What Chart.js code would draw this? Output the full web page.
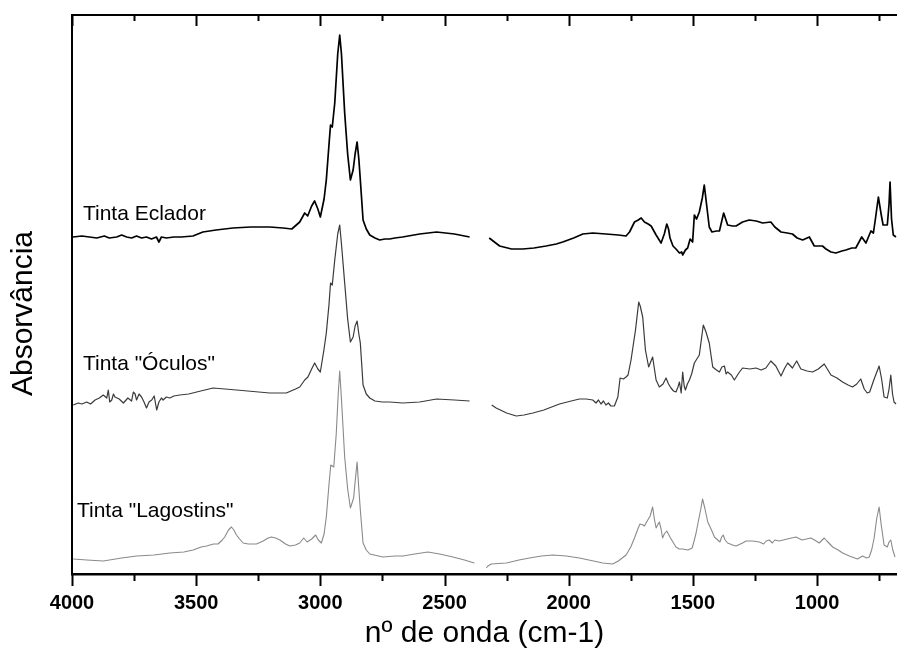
<!DOCTYPE html>
<html>
<head>
<meta charset="utf-8">
<title>Espectros FTIR</title>
<script src="https://cdn.jsdelivr.net/npm/chart.js@4.4.1/dist/chart.umd.min.js"></script>
<style>
  html, body { margin: 0; padding: 0; background: #fff; }
  canvas { display: block; }
</style>
</head>
<body>
<canvas id="chartCanvas" width="897" height="659"></canvas>
<script>
// wavenumber (cm-1) / absorbance (offset, arbitrary units); null = removed CO2 region
const ecladorWn = [3996,3960,3930,3900,3870,3850,3820,3800,3780,3760,3740,3720,3700,3680,3660,3650,3640,3620,3590,3560,3513,3473,3420,3352,3280,3204,3150,3115,3083,3063,3051,3035,3023,3010,3000,2985,2976,2965,2959,2952,2942,2930,2922,2915,2902,2890,2879,2868,2860,2852,2845,2839,2828,2815,2801,2780,2761,2740,2721,2700,2669,2600,2532,2460,2399,
  2360,
  2320,2278,2230,2185,2140,2091,2050,2024,1980,1943,1903,1850,1800,1769,1755,1735,1720,1708,1695,1680,1668,1648,1628,1615,1605,1598,1592,1580,1568,1554,1545,1541,1530,1521,1511,1501,1494,1485,1474,1462,1454,1445,1434,1423,1405,1393,1376,1360,1340,1326,1300,1273,1245,1219,1186,1170,1145,1120,1099,1080,1058,1031,1011,990,978,964,944,924,900,884,860,844,820,803,783,773,765,753,742,734,717,710,706,700,693,682];
const ecladorAbs = [337,338,337,336,338,336,337,339,337,336,338,336,337,335,337,332,337,336,337,337,338,342,344,346,347,347,346,345,352,361,358,368,373,365,357,375,394,430,449,447,471,520,539,520,461,420,394,404,420,432,415,394,354,345,339,336,334,335,335,336,337,340,342,340,337,
  null,
  336,328,325,325,326,328,330,332,336,340,341,340,339,338,342,352,354,356,352,350,348,339,331,340,350,345,336,328,325,321,322,319,324,326,335,332,359,355,362,376,389,370,347,342,343,343,361,349,348,348,352,354,353,351,352,347,342,341,340,336,334,337,328,328,328,325,322,321,323,324,326,326,337,331,343,341,355,377,360,349,349,370,392,355,339,337];

const oculosWn = [3995,3975,3960,3941,3925,3907,3890,3874,3860,3854,3848,3840,3833,3827,3810,3793,3775,3760,3753,3746,3740,3730,3720,3710,3700,3690,3679,3669,3659,3650,3640,3633,3620,3606,3590,3566,3530,3498,3432,3337,3204,3137,3100,3083,3063,3050,3035,3023,3010,3000,2985,2976,2965,2959,2952,2942,2930,2922,2915,2902,2890,2879,2868,2860,2852,2845,2839,2828,2815,2801,2780,2750,2721,2669,2600,2532,2460,2399,
  2360,
  2310,2292,2250,2211,2180,2144,2100,2037,1990,1957,1930,1903,1890,1880,1870,1860,1850,1840,1830,1816,1802,1793,1780,1769,1761,1749,1731,1718,1712,1702,1691,1678,1662,1648,1635,1620,1608,1598,1588,1578,1568,1560,1554,1547,1541,1535,1530,1522,1514,1505,1494,1474,1458,1447,1434,1420,1405,1393,1383,1373,1366,1360,1345,1333,1315,1300,1270,1246,1225,1206,1186,1166,1145,1130,1118,1099,1082,1065,1040,1018,995,971,944,920,897,875,857,840,824,810,798,788,770,750,740,730,717,710,703,696,690,682];
const oculosAbs = [169,171,170,172,170,174,176,179,176,184,172,174,180,177,175,171,176,173,182,180,174,180,177,172,166,172,174,178,164,172,176,174,177,176,178,179,180,182,186,184,181,181,185,187,194,197,205,211,205,202,225,241,270,291,289,314,340,349,330,291,255,232,237,248,253,240,231,189,180,176,173,172,172,171,172,175,174,173,
  null,
  169,166,161,158,159,161,164,170,173,175,175,174,171,174,170,173,169,171,168,168,177,196,195,197,199,214,244,272,268,257,224,207,217,194,187,190,196,190,186,183,182,187,192,181,202,188,184,190,194,200,211,219,249,242,231,207,204,202,207,208,200,202,199,194,201,206,205,206,204,206,213,208,198,206,211,206,213,205,203,202,205,210,199,196,192,189,187,190,195,185,181,182,195,208,195,177,176,185,199,180,172,170];

const lagostinsWn = [3995,3940,3874,3800,3740,3670,3606,3550,3512,3480,3458,3430,3412,3395,3385,3370,3358,3348,3338,3325,3311,3290,3257,3230,3210,3197,3180,3163,3140,3123,3100,3083,3067,3060,3053,3035,3019,3008,2996,2985,2976,2965,2958,2952,2946,2936,2928,2922,2915,2902,2890,2879,2866,2860,2852,2845,2839,2828,2815,2801,2748,2700,2667,2620,2567,2520,2466,2420,2380,
  2355,
  2332,2325,2312,2251,2200,2158,2110,2064,2010,1957,1900,1863,1823,1800,1769,1750,1735,1720,1713,1700,1695,1684,1672,1662,1655,1648,1640,1635,1628,1622,1615,1605,1590,1568,1555,1541,1520,1503,1495,1487,1477,1468,1461,1452,1440,1425,1413,1400,1391,1384,1378,1370,1360,1340,1326,1300,1286,1260,1232,1215,1205,1192,1180,1170,1152,1120,1085,1060,1025,1010,991,971,960,937,915,897,870,837,817,800,790,780,770,760,750,742,730,717,710,703,695,686];
const lagostinsAbs = [15,14,13,16,18,19,21,22,24,27,28,30,30,34,37,44,47,44,39,35,31,30,30,33,36,37,36,34,30,28,29,31,36,34,32,35,39,34,31,40,57,90,109,108,107,140,180,203,175,117,85,66,76,92,112,85,64,31,24,20,17,18,18,20,22,20,17,14,11,
  null,
  6,8,10,11,14,16,18,19,18,16,13,11,10,13,19,27,36,46,50,49,48,53,58,67,55,46,50,52,45,36,40,43,36,27,25,25,24,26,33,41,54,65,75,66,52,44,37,34,32,37,39,34,31,29,28,31,33,33,32,30,33,34,31,34,33,35,37,34,36,34,31,36,33,27,24,21,18,15,18,16,17,24,36,55,67,50,29,27,32,34,24,17];

const seriesNames = ['Tinta Eclador', 'Tinta "Óculos"', 'Tinta "Lagostins"'];
const labelWn = [3956, 3956, 3980];
const labelAbs = [354, 204, 57];

const xTicks = [4000, 3500, 3000, 2500, 2000, 1500, 1000];
const xMinorTicks = [3750, 3250, 2750, 2250, 1750, 1250, 750];
const xMin = 678, xMax = 4000;
const yMin = 0, yMax = 559;

function toPoints(wn, abs) {
    return wn.map((w, i) => ({ x: w, y: abs[i] }));
}

const FONT = '"Liberation Sans", Arial, Helvetica, sans-serif';

// frame on top, tick marks on both horizontal edges, y title, sample names
const axisDecor = {
    id: 'axisDecor',
    afterDraw(chart) {
        const { ctx, chartArea: a, scales: { x, y } } = chart;
        ctx.save();
        ctx.strokeStyle = '#000';
        ctx.lineWidth = 2;
        ctx.beginPath();
        ctx.moveTo(a.left - 1, a.top);
        ctx.lineTo(a.right, a.top);
        ctx.stroke();

        const all = xTicks.map(v => [v, true]).concat(xMinorTicks.map(v => [v, false]));
        all.forEach(([v, major]) => {
            const px = Math.round(x.getPixelForValue(v)) + 0.5;
            ctx.beginPath();
            ctx.moveTo(px, a.bottom);
            ctx.lineTo(px, a.bottom + (major ? 12 : 7));
            ctx.moveTo(px, a.top);
            ctx.lineTo(px, a.top + (major ? 11 : 6));
            ctx.stroke();
        });

        ctx.fillStyle = '#000';
        ctx.font = '21px ' + FONT;
        ctx.textBaseline = 'alphabetic';
        ctx.textAlign = 'left';
        seriesNames.forEach((name, i) => {
            ctx.fillText(name, x.getPixelForValue(labelWn[i]), y.getPixelForValue(labelAbs[i]));
        });

        // y-axis title, sits a little below the middle of the axis as in the original
        ctx.font = '30px ' + FONT;
        ctx.textAlign = 'center';
        ctx.textBaseline = 'middle';
        ctx.translate(24, (a.top + a.bottom) / 2 + 19);
        ctx.rotate(-Math.PI / 2);
        ctx.fillText('Absorvância', 0, 0);
        ctx.restore();
    }
};

const ctx = document.getElementById('chartCanvas').getContext('2d');

window.myChart = new Chart(ctx, {
    type: 'line',
    data: {
        datasets: [
            { label: seriesNames[0], data: toPoints(ecladorWn, ecladorAbs), borderColor: '#000000', borderWidth: 1.7 },
            { label: seriesNames[1], data: toPoints(oculosWn, oculosAbs), borderColor: '#3a3a3a', borderWidth: 1.2 },
            { label: seriesNames[2], data: toPoints(lagostinsWn, lagostinsAbs), borderColor: '#8a8a8a', borderWidth: 1.1 }
        ]
    },
    options: {
        responsive: false,
        animation: false,
        devicePixelRatio: 1,
        spanGaps: false,
        layout: { padding: { top: 15, right: 0, left: 0, bottom: 0 } },
        elements: {
            point: { radius: 0 },
            line: { tension: 0, borderJoinStyle: 'round' }
        },
        plugins: {
            legend: { display: false },
            tooltip: { enabled: false }
        },
        scales: {
            x: {
                type: 'linear',
                reverse: true,
                min: xMin,
                max: xMax,
                afterBuildTicks: scale => { scale.ticks = xTicks.map(v => ({ value: v })); },
                afterFit: scale => { scale.height = 85; },
                grid: { display: false, drawTicks: false },
                border: { display: true, color: '#000', width: 2.5 },
                ticks: {
                    autoSkip: false,
                    maxRotation: 0,
                    padding: 17,
                    color: '#000',
                    font: { family: FONT, size: 20, weight: 'bold' },
                    callback: v => String(v)
                },
                title: {
                    display: true,
                    text: 'nº de onda (cm-1)',
                    color: '#000',
                    font: { family: FONT, size: 30 },
                    padding: { top: 0, bottom: 7 }
                }
            },
            y: {
                min: yMin,
                max: yMax,
                afterFit: scale => { scale.width = 72; },
                grid: { display: false, drawTicks: false },
                border: { display: true, color: '#000', width: 2 },
                ticks: { display: false },
                title: { display: false }
            }
        }
    },
    plugins: [axisDecor]
});
</script>
</body>
</html>
